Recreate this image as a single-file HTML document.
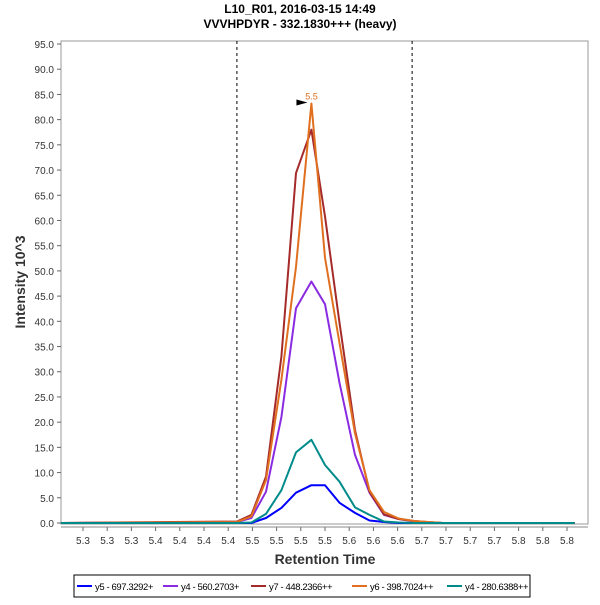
<!DOCTYPE html>
<html><head><meta charset="utf-8"><style>
body{margin:0;background:#fff;font-family:"Liberation Sans",sans-serif;}
</style></head><body>
<svg id="chart" width="600" height="600" xmlns="http://www.w3.org/2000/svg" font-family="Liberation Sans, sans-serif">
<rect width="600" height="600" fill="#fff"/>
<text x="300" y="13" text-anchor="middle" font-size="12" font-weight="bold">L10_R01, 2016-03-15 14:49</text>
<text x="300" y="28" text-anchor="middle" font-size="12" font-weight="bold">VVVHPDYR - 332.1830+++ (heavy)</text>
<rect x="61" y="41" width="527" height="483" fill="#fff" stroke="#999"/>
<g id="yaxis"></g><g id="xaxis"></g><g id="series"></g>
<text transform="translate(25,282) rotate(-90)" text-anchor="middle" font-size="14" font-weight="bold" fill="#333">Intensity 10^3</text>
<text x="325" y="564" text-anchor="middle" font-size="14" font-weight="bold" fill="#333">Retention Time</text>
<g id="legend"><rect x="74" y="575" width="456" height="22" fill="#fff" stroke="#000"/></g>
</svg>
<script>
const yTicks=[0,5,10,15,20,25,30,35,40,45,50,55,60,65,70,75,80,85,90,95];
const xTickTimes=[5.300,5.325,5.350,5.375,5.400,5.425,5.450,5.475,5.500,5.525,5.550,5.575,5.600,5.625,5.650,5.675,5.700,5.725,5.750,5.775,5.800];
const xTickLabels=["5.3","5.3","5.3","5.4","5.4","5.4","5.4","5.5","5.5","5.5","5.5","5.6","5.6","5.6","5.7","5.7","5.7","5.7","5.8","5.8","5.8"];
const times=[5.277,5.459,5.474,5.489,5.505,5.520,5.536,5.550,5.565,5.581,5.596,5.611,5.626,5.642,5.656,5.672,5.808];
const seriesNames=["y5 - 697.3292+","y4 - 560.2703+","y7 - 448.2366++","y6 - 398.7024++","y4 - 280.6388++"];
const seriesColors=["#0000ff","#8a2be2","#a52a2a","#e07020","#008b8b"];
const y5=[0,0,0,1.0,3.0,6.0,7.5,7.5,4.0,2.0,0.5,0.2,0,0,0,0,0];
const y4a=[0,0.2,1.0,6.2,21,42.6,47.9,43.4,27.8,13.5,6.0,1.6,0.8,0.3,0.1,0,0];
const y7=[0,0.3,1.6,9.2,33,69.4,78,60.8,39.7,18.4,6.2,1.7,0.8,0.4,0.2,0,0];
const y6=[0,0.2,1.3,8.5,28.4,50.8,83.2,52.6,35.7,17.8,6.5,2.2,0.9,0.4,0.2,0,0];
const y4b=[0,0,0.1,1.8,6.5,14,16.5,11.5,8.2,3.1,1.6,0.3,0.1,0,0,0,0];
const seriesValues=[y5,y4a,y7,y6,y4b];
const boundaryTimes=[5.459,5.640];
const peakTime=5.536, peakValue=83.2, peakLabel="5.5";

const NS="http://www.w3.org/2000/svg";
function xs(t){return 83+(t-5.300)/0.025*24.2;}
function ys(v){return 523-v*479/95;}
function mk(tag,attrs,parent,text){const e=document.createElementNS(NS,tag);for(const k in attrs)e.setAttribute(k,attrs[k]);if(text!==undefined)e.textContent=text;parent.appendChild(e);return e;}
const ya=document.getElementById('yaxis'),xa=document.getElementById('xaxis'),sg=document.getElementById('series'),lg=document.getElementById('legend');
yTicks.forEach(v=>{
  const l=mk('line',{x1:57,x2:61,y1:ys(v),y2:ys(v),stroke:'#666'},ya);
  
  
  const t=mk('text',{x:54,y:ys(v)+4,'text-anchor':'end','font-size':10,fill:'#333'},ya,v.toFixed(1));
  
  
});
xTickTimes.forEach((tv,i)=>{
  const l=mk('line',{x1:xs(tv),x2:xs(tv),y1:527,y2:531,stroke:'#666'},xa);
  
  
  const t=mk('text',{x:xs(tv),y:544,'text-anchor':'middle','font-size':10,fill:'#333'},xa,xTickLabels[i]);
  
  
});
mk('line',{x1:61,x2:588,y1:527,y2:527,stroke:'#888'},xa);
boundaryTimes.forEach(tv=>{
  const l=mk('line',{x1:xs(tv),x2:xs(tv),y1:41,y2:524,stroke:'#000','stroke-dasharray':'3,3','stroke-width':1},sg);
  
  
});
seriesValues.forEach((vals,si)=>{
  const pts=vals.map((v,i)=>xs(times[i]).toFixed(1)+','+ys(v).toFixed(1)).join(' ');
  const p=mk('polyline',{points:pts,fill:'none',stroke:seriesColors[si],'stroke-width':2,'stroke-linejoin':'round'},sg);
  
  
});
const px=xs(peakTime),py=ys(peakValue);
const ar=mk('polygon',{points:(px-15)+','+(py-4)+' '+(px-4)+','+(py-1)+' '+(px-15)+','+(py+2),fill:'#000'},sg);


const pl=mk('text',{x:px,y:py-4,'text-anchor':'middle','font-size':9,fill:'#e07020'},sg,peakLabel);


const lx=[77,163,251,352,447];
seriesNames.forEach((n,i)=>{
  const l=mk('line',{x1:lx[i],x2:lx[i]+15,y1:586,y2:586,stroke:seriesColors[i],'stroke-width':2},lg);
  
  
  const t=mk('text',{x:lx[i]+18,y:590,'font-size':9.5,'letter-spacing':'-0.4',fill:'#000'},lg,n);
  
  
});
</script>
</body></html>
